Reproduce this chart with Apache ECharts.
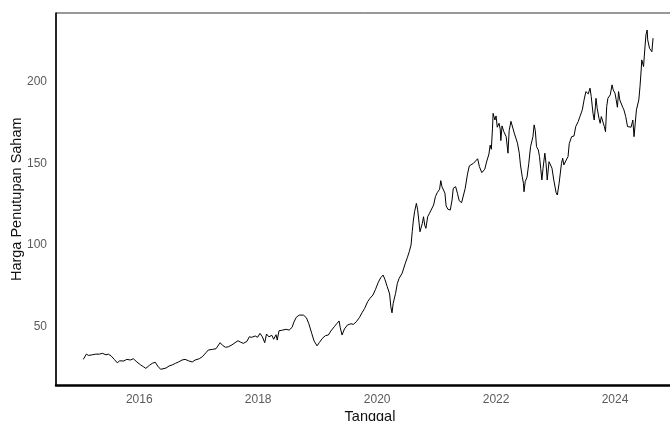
<!DOCTYPE html>
<html>
<head>
<meta charset="utf-8">
<script src="https://cdn.jsdelivr.net/npm/echarts@6/dist/echarts.min.js"></script>
<style>
  html, body { margin: 0; padding: 0; background: #fff; }
  #chart { width: 670px; height: 421px; }
</style>
</head>
<body>
<div id="chart"></div>
<script>
// tanggal (tahun desimal) dan harga penutupan
var tanggal = [
  2015.06, 2015.11, 2015.15, 2015.21, 2015.27, 2015.33, 2015.38, 2015.44, 2015.48, 2015.53,
  2015.58, 2015.63, 2015.67, 2015.74, 2015.79, 2015.85, 2015.90, 2015.96, 2016.02, 2016.07,
  2016.11, 2016.17, 2016.22, 2016.27, 2016.31, 2016.36, 2016.39, 2016.45, 2016.50, 2016.56,
  2016.61, 2016.66, 2016.72, 2016.77, 2016.83, 2016.89, 2016.94, 2017.01, 2017.06, 2017.12,
  2017.16, 2017.23, 2017.29, 2017.32, 2017.36, 2017.40, 2017.45, 2017.50, 2017.56, 2017.61,
  2017.66, 2017.70, 2017.75, 2017.81, 2017.85, 2017.89, 2017.95, 2017.99, 2018.03, 2018.07,
  2018.11, 2018.14, 2018.18, 2018.23, 2018.26, 2018.30, 2018.32, 2018.35, 2018.41, 2018.47,
  2018.52, 2018.57, 2018.60, 2018.64, 2018.69, 2018.72, 2018.76, 2018.81, 2018.85, 2018.90,
  2018.94, 2018.99, 2019.03, 2019.08, 2019.13, 2019.18, 2019.22, 2019.28, 2019.32, 2019.36,
  2019.38, 2019.41, 2019.45, 2019.50, 2019.56, 2019.60, 2019.65, 2019.70, 2019.75, 2019.79,
  2019.84, 2019.88, 2019.93, 2019.97, 2020.02, 2020.06, 2020.10, 2020.13, 2020.17, 2020.21,
  2020.23, 2020.25, 2020.27, 2020.31, 2020.34, 2020.37, 2020.42, 2020.47, 2020.51, 2020.54,
  2020.57, 2020.59, 2020.61, 2020.63, 2020.66, 2020.68, 2020.70, 2020.72, 2020.76, 2020.78,
  2020.80, 2020.82, 2020.85, 2020.88, 2020.91, 2020.95, 2020.98, 2021.01, 2021.05, 2021.07,
  2021.09, 2021.11, 2021.14, 2021.16, 2021.19, 2021.23, 2021.26, 2021.28, 2021.32, 2021.35,
  2021.38, 2021.42, 2021.45, 2021.48, 2021.52, 2021.55, 2021.58, 2021.62, 2021.65, 2021.69,
  2021.72, 2021.76, 2021.81, 2021.84, 2021.88, 2021.90, 2021.92, 2021.94, 2021.95, 2021.98,
  2022.00, 2022.02, 2022.05, 2022.07, 2022.08, 2022.10, 2022.13, 2022.17, 2022.20, 2022.22,
  2022.25, 2022.28, 2022.31, 2022.36, 2022.39, 2022.41, 2022.44, 2022.46, 2022.47, 2022.49,
  2022.52, 2022.55, 2022.58, 2022.62, 2022.64, 2022.66, 2022.68, 2022.71, 2022.73, 2022.75,
  2022.77, 2022.79, 2022.82, 2022.84, 2022.86, 2022.89, 2022.91, 2022.94, 2022.97, 2023.01,
  2023.03, 2023.06, 2023.10, 2023.12, 2023.14, 2023.18, 2023.21, 2023.23, 2023.27, 2023.31,
  2023.34, 2023.38, 2023.41, 2023.45, 2023.48, 2023.51, 2023.55, 2023.58, 2023.60, 2023.63,
  2023.65, 2023.67, 2023.68, 2023.70, 2023.73, 2023.75, 2023.77, 2023.79, 2023.82, 2023.84,
  2023.86, 2023.88, 2023.92, 2023.95, 2023.97, 2024.00, 2024.02, 2024.04, 2024.06, 2024.08,
  2024.11, 2024.13, 2024.15, 2024.18, 2024.21, 2024.24, 2024.27, 2024.30, 2024.32, 2024.34,
  2024.36, 2024.40, 2024.42, 2024.44, 2024.45, 2024.48, 2024.50, 2024.52, 2024.54, 2024.55,
  2024.58, 2024.60, 2024.62, 2024.64
];
var hargaPenutupan = [
  30.0, 33.2, 32.4, 32.8, 33.2, 33.2, 33.7, 32.8, 33.2, 32.0,
  30.0, 27.9, 29.1, 29.0, 30.0, 29.6, 30.4, 28.4, 26.7, 25.5,
  24.5, 26.3, 27.6, 28.2, 25.9, 23.9, 25.1, 24.7, 25.9, 26.7,
  27.6, 28.4, 29.6, 30.0, 29.1, 28.4, 29.6, 30.4, 31.6, 34.0,
  35.7, 36.1, 36.5, 37.7, 40.2, 38.6, 37.4, 37.7, 38.9, 40.2,
  41.4, 40.6, 39.8, 41.0, 43.8, 43.5, 44.3, 43.5, 45.9, 43.8,
  40.2, 45.5, 43.8, 44.7, 42.3, 45.1, 41.8, 47.5, 47.9, 48.4,
  47.9, 49.6, 52.8, 55.7, 57.1, 56.3, 57.1, 55.5, 52.0, 45.9,
  41.2, 38.3, 40.4, 42.9, 44.5, 44.9, 47.3, 50.0, 51.8, 53.5,
  49.4, 44.9, 48.6, 51.0, 51.8, 51.4, 53.0, 55.5, 58.8, 61.2,
  65.3, 67.4, 69.4, 72.6, 77.2, 80.0, 81.6, 79.0, 74.5, 70.0,
  62.2, 58.5, 64.3, 70.4, 76.5, 79.6, 82.7, 88.4, 92.5, 95.9,
  100.0, 108.1, 115.3, 120.4, 125.5, 121.9, 115.3, 108.1, 113.3, 117.3,
  112.2, 110.2, 117.3, 119.4, 120.4, 124.5, 129.6, 132.0, 134.1, 139.4,
  135.7, 136.7, 131.7, 123.9, 121.9, 121.4, 127.6, 134.7, 135.7, 131.7,
  127.1, 125.9, 127.1, 134.5, 143.5, 148.4, 147.2, 150.0, 150.8, 152.8,
  147.9, 144.3, 146.4, 150.8, 155.7, 161.1, 158.6, 171.5, 180.6, 176.5,
  179.0, 172.1, 174.5, 170.9, 163.9, 172.9, 169.4, 166.3, 156.2, 170.0,
  175.7, 174.5, 168.0, 162.3, 156.2, 149.0, 141.8, 137.8, 132.6, 138.8,
  141.5, 150.0, 160.2, 166.3, 173.5, 170.0, 160.2, 158.2, 154.1, 147.0,
  139.8, 147.0, 156.2, 150.0, 139.8, 151.0, 151.6, 147.0, 139.8, 132.0,
  130.6, 137.8, 150.0, 153.1, 149.0, 152.0, 154.1, 162.0, 166.3, 166.7,
  172.5, 175.5, 178.6, 182.7, 188.8, 193.9, 192.5, 196.0, 190.8, 180.6,
  176.5, 184.7, 189.8, 183.7, 177.6, 174.5, 178.6, 179.6, 172.5, 169.4,
  184.7, 189.8, 191.9, 198.0, 194.9, 192.9, 188.8, 184.3, 193.9, 188.8,
  189.8, 184.3, 182.7, 178.6, 172.5, 172.9, 172.1, 176.5, 166.3, 174.5,
  182.7, 188.8, 196.9, 207.1, 213.3, 209.2, 219.4, 228.6, 231.6, 225.5,
  220.4, 221.4, 218.3, 226.6
];
var tahunTicks = [2016, 2018, 2020, 2022, 2024];
var hargaTicks = [50, 100, 150, 200];

var seriesData = [];
for (var i = 0; i < tanggal.length; i++) {
    seriesData.push([tanggal[i], hargaPenutupan[i]]);
}

var myChart = echarts.init(document.getElementById("chart"), null, { renderer: "canvas" });

var option = {
    animation: false,
    backgroundColor: "#fff",
    textStyle: { fontFamily: "Liberation Sans, Arial, sans-serif" },
    grid: {
        left: 56,
        top: 13,
        right: -14,
        bottom: 35.5,
        outerBoundsMode: "none",
        containLabel: false,
        show: true,
        borderColor: "#333",
        borderWidth: 1
    },
    xAxis: {
        type: "value",
        min: 2014.6,
        max: 2025.16,
        name: "Tanggal",
        nameLocation: "middle",
        nameGap: 23.5,
        nameMoveOverlap: false,
        nameTextStyle: { color: "#111", fontSize: 14.5 },
        axisLine: { show: true, onZero: false, lineStyle: { color: "#000", width: 2.5 } },
        axisTick: { show: false },
        splitLine: { show: false },
        axisLabel: {
            color: "#5a5a5a",
            fontSize: 12,
            margin: 8,
            customValues: tahunTicks,
            formatter: function (v) { return String(v); }
        }
    },
    yAxis: {
        type: "value",
        min: 14,
        max: 242,
        name: "Harga Penutupan Saham",
        nameLocation: "middle",
        nameGap: 32,
        nameMoveOverlap: false,
        nameTextStyle: { color: "#111", fontSize: 14.5 },
        axisLine: { show: true, onZero: false, lineStyle: { color: "#000", width: 1.5 } },
        axisTick: { show: false },
        splitLine: { show: false },
        axisLabel: {
            color: "#5a5a5a",
            fontSize: 12,
            margin: 9,
            customValues: hargaTicks
        }
    },
    series: [{
        type: "line",
        data: seriesData,
        showSymbol: false,
        symbol: "none",
        lineStyle: { color: "#000", width: 1 },
        silent: true
    }]
};
myChart.setOption(option);
</script>
</body>
</html>
